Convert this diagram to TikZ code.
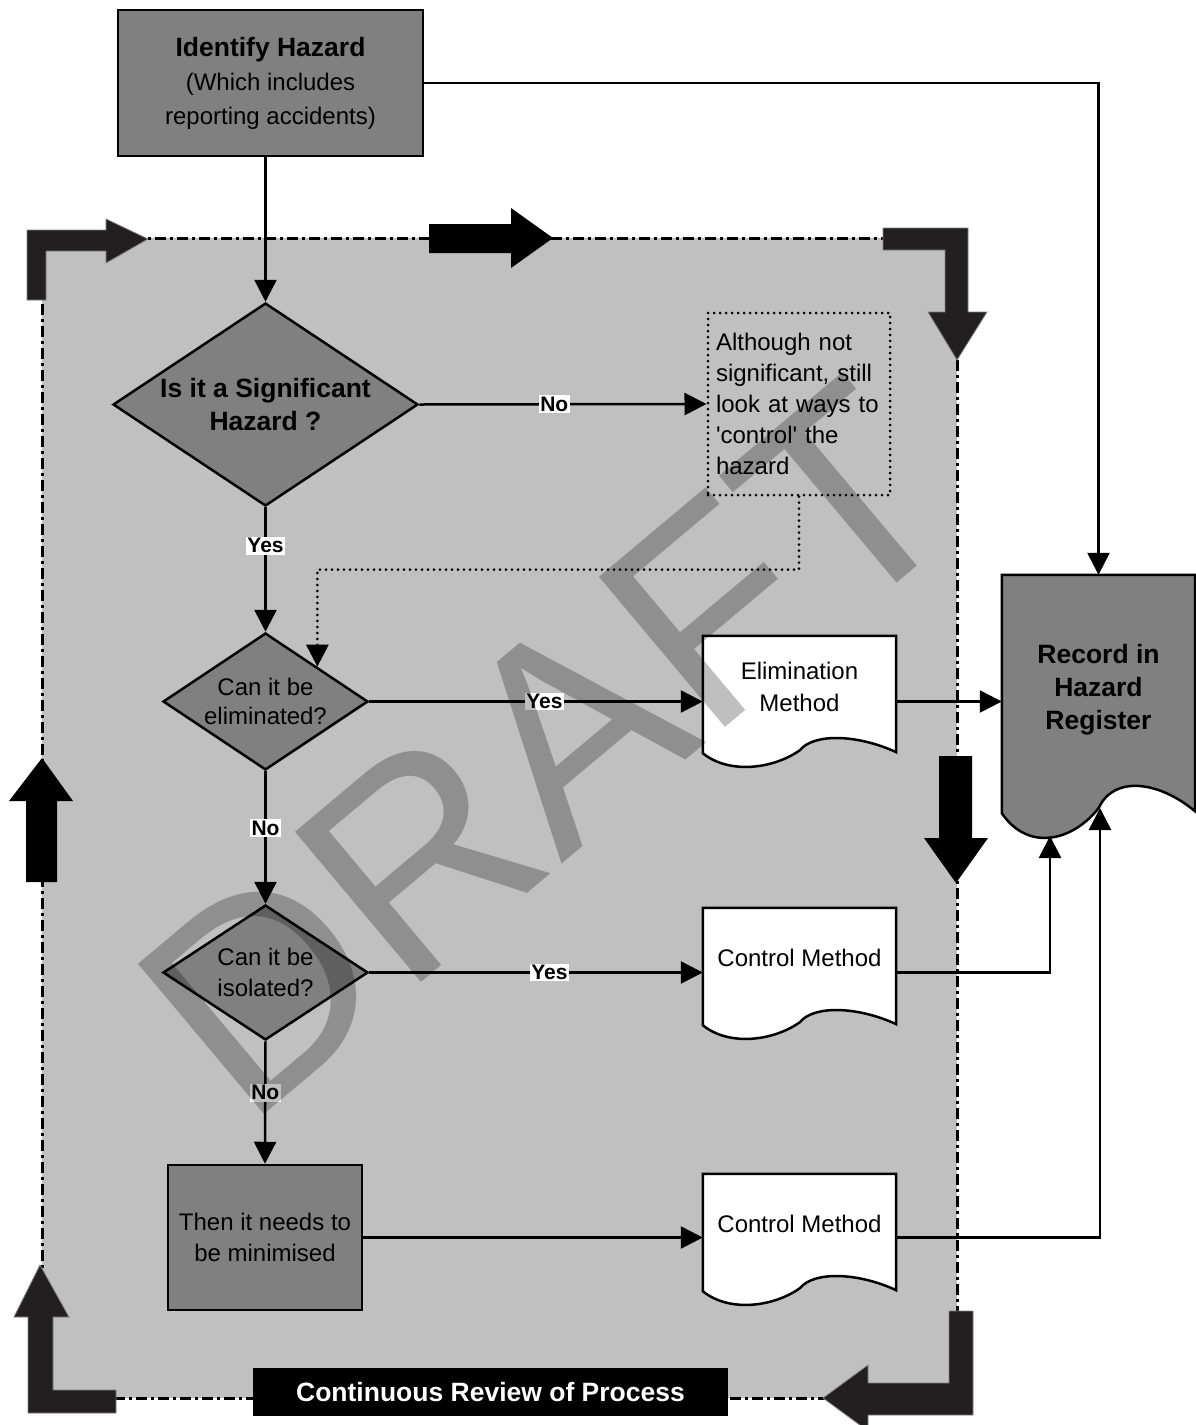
\documentclass[tikz,border=0pt]{standalone}
\usepackage{fontspec}
\setmainfont{Liberation Sans}
\usetikzlibrary{arrows.meta,shapes.geometric,calc}
\definecolor{silverbg}{HTML}{C0C0C0}
\definecolor{midgray}{HTML}{808080}
\definecolor{darkarrow}{HTML}{231F20}
\tikzset{
  every node/.style={font=\fontsize{24}{31}\selectfont},
  boxnode/.style={draw, line width=2.5pt, fill=midgray, align=center, inner sep=0pt},
  dia/.style={diamond, draw, line width=2.5pt, fill=midgray, align=center, inner sep=0pt},
  docbox/.style={draw=none, minimum width=193pt, inner sep=0pt},
  doctext/.style={align=center, inner sep=0pt},
  boldtxt/.style={font=\bfseries\fontsize{26.5}{33}\selectfont},
  lbl/.style={fill=white, inner sep=1.5pt, font=\bfseries\fontsize{21}{23}\selectfont},
  conn/.style={line width=2.5pt, -{Triangle[length=22pt,width=22pt]}},
  dconn/.style={line width=3pt, line cap=round, dash pattern=on 0pt off 6pt, -{Triangle[length=22pt,width=22pt]}},
  bigarrow/.style={fill=black},
  bentarrow/.style={fill=darkarrow, draw=gray, line width=0.8pt},
  borderline/.style={line width=3pt, dash pattern=on 11pt off 4pt on 3pt off 4pt}
}
\newcommand{\docwave}[3]{%
  \draw[line width=2.5pt, fill=#2] (#1.south west) -- (#1.north west) -- (#1.north east) -- ($(#1.south east)+(0,-1*#3)$)
   .. controls ($(#1.south west)+(157,-18*#3)$) and ($(#1.south west)+(112,-21*#3)$) .. ($(#1.south west)+(97,-3*#3)$)
   .. controls ($(#1.south west)+(72,15*#3)$) and ($(#1.south west)+(27,22*#3)$) .. (#1.south west) -- cycle;}
\begin{document}
\begin{tikzpicture}[x=1pt,y=-1pt]
\useasboundingbox (0,0) rectangle (1195,1425);
\fill[white] (0,0) rectangle (1195,1425);
% review region
\fill[silverbg] (42,238) rectangle (957,1398);
\draw[borderline] (42,238) rectangle (957,1398);
% big arrows
\fill[bentarrow] (27,300) -- (27,230) -- (106,230) -- (106,219) -- (148,239) -- (106,263) -- (106,251) -- (46,251) -- (46,300) -- cycle;
\fill[bigarrow] (429,224) -- (511,224) -- (511,208) -- (553,238) -- (511,268) -- (511,253) -- (429,253) -- cycle;
\fill[bentarrow] (883,228) -- (968,228) -- (968,312) -- (987,312) -- (957,360) -- (928,312) -- (945,312) -- (945,250) -- (883,250) -- cycle;
\fill[bigarrow] (26,882) -- (26,801) -- (9,801) -- (42,758) -- (73,801) -- (57,801) -- (57,882) -- cycle;
\fill[bigarrow] (939,756) -- (972,756) -- (972,838) -- (988,838) -- (956,883) -- (924,838) -- (939,838) -- cycle;
\fill[bentarrow] (40,1265) -- (69,1317) -- (53,1317) -- (53,1390) -- (116,1390) -- (116,1413) -- (28,1413) -- (28,1317) -- (14,1317) -- cycle;
\fill[bentarrow] (949,1311) -- (973,1311) -- (973,1415) -- (868,1415) -- (868,1431) -- (823,1398) -- (868,1365) -- (868,1383) -- (949,1383) -- cycle;
% review label
\node[fill=black, text=white, minimum width=475pt, minimum height=48pt, inner sep=0pt, font=\bfseries\fontsize{26.5}{30}\selectfont] (review) at (490.5,1392) {Continuous Review of Process};
% main nodes
\node[boxnode, minimum width=305pt, minimum height=146pt, font=\fontsize{24}{34}\selectfont] (ident) at (270.5,83)
  {{\bfseries\fontsize{26.5}{34}\selectfont Identify Hazard}\\(Which includes\\reporting accidents)};
\node[dia, minimum width=305pt, minimum height=203pt, boldtxt] (sig) at (265.5,404.5)
  {\makebox[0pt]{Is it a Significant}\\\makebox[0pt]{Hazard ?}};
\node[dia, minimum width=205pt, minimum height=137pt, font=\fontsize{24}{29}\selectfont] (q1) at (265.5,701.5)
  {\makebox[0pt]{Can it be}\\\makebox[0pt]{eliminated?}};
\node[dia, minimum width=205pt, minimum height=135pt, font=\fontsize{24}{31}\selectfont] (q2) at (265.5,972.5)
  {\makebox[0pt]{Can it be}\\\makebox[0pt]{isolated?}};
\node[boxnode, minimum width=194pt, minimum height=145pt] (mini) at (265,1237.5) {Then it needs to\\be minimised};
\node[draw, line width=3pt, line cap=round, dash pattern=on 0pt off 6pt, align=left, text width=166pt, inner xsep=8pt, inner ysep=0pt, minimum height=182pt] (note) at (799,404)
  {Although not\\significant, still\\look at ways to\\\textquotesingle control\textquotesingle\ the\\hazard};
% documents
\node[docbox, minimum height=117pt] (elim) at (799.5,694.5) {};
\node[docbox, minimum height=117pt] (ctl1) at (799.5,966.5) {};
\node[docbox, minimum height=117pt] (ctl2) at (799.5,1232.5) {};
\node[docbox, minimum height=238pt] (rec) at (1098.5,694) {};
\docwave{elim}{white}{1}
\docwave{ctl1}{white}{1}
\docwave{ctl2}{white}{1}
\docwave{rec}{midgray}{1.8}
\node[doctext, font=\fontsize{24}{32}\selectfont] (elimT) at (799.5,687) {Elimination\\Method};
\node[doctext] (ctl1T) at (799.5,958) {Control Method};
\node[doctext] (ctl2T) at (799.5,1224) {Control Method};
\node[doctext, boldtxt] (recT) at (1098.5,690) {Record in\\Hazard\\Register};
\coordinate (q1ne) at ($(q1.north)!0.5!(q1.east)$);
\coordinate (recB1) at (1050,836);
\coordinate (recB2) at (1100,808);
% connectors
\draw[conn] (ident.south -| sig.north) -- (sig.north);
\draw[conn] (ident.east) -| (rec.north);
\draw[conn] (sig.east) -- node[lbl,pos=0.47]{No} (note.west);
\draw[conn] (sig.south) -- node[lbl,pos=0.31]{Yes} (q1.north);
\draw[dconn] (note.south) -- ++(0,73) -| (q1ne);
\draw[conn] (q1.east) -- node[lbl,pos=0.525]{Yes} (q1.east -| elim.west);
\draw[conn] (q1.south) -- node[lbl,pos=0.43]{No} (q2.north);
\draw[conn] (q1.east -| elim.east) -- (q1.east -| rec.west);
\draw[conn] (q2.east) -- node[lbl,pos=0.54]{Yes} (q2.east -| ctl1.west);
\draw[conn] (q2.south) -- node[lbl,pos=0.42]{No} (mini.north);
\draw[conn] (q2.east -| ctl1.east) -| (recB1);
\draw[conn] (mini.east) -- (mini.east -| ctl2.west);
\draw[conn] (mini.east -| ctl2.east) -| (recB2);
% watermark
\node[rotate=40, text=black, text opacity=0.25, inner sep=0pt, font=\fontsize{285}{285}\selectfont] (draft) at (547,749) {DRAFT};
\end{tikzpicture}
\end{document}
